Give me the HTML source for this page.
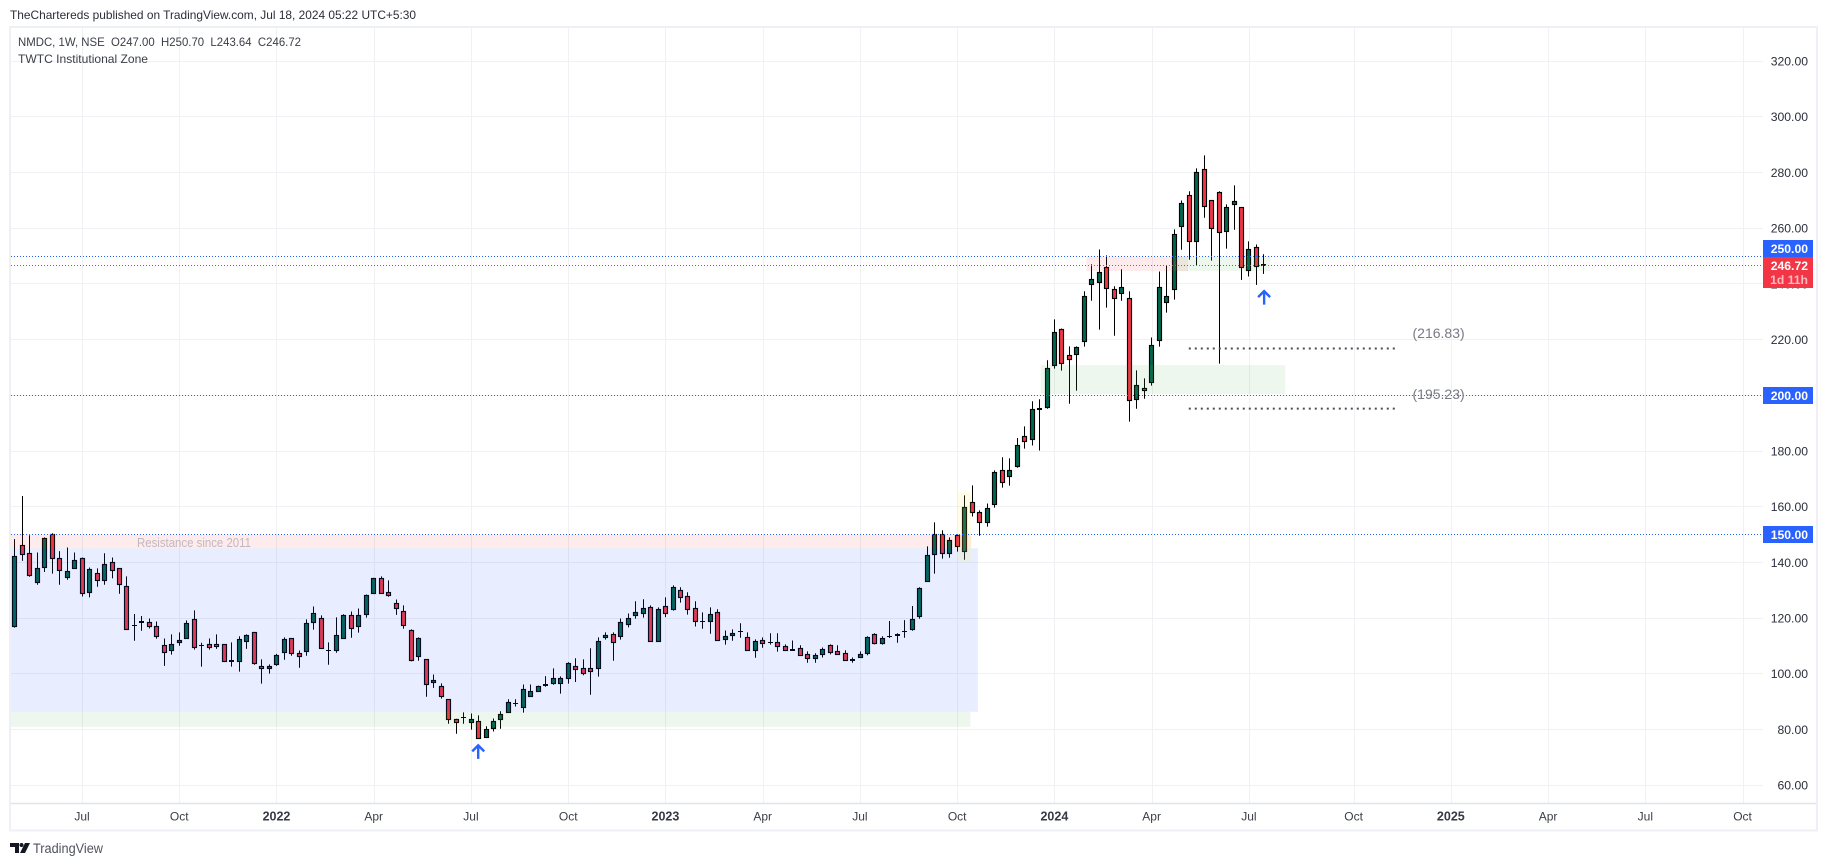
<!DOCTYPE html>
<html lang="en">
<head>
<meta charset="utf-8">
<title>NMDC 1W chart</title>
<style>
html,body{margin:0;padding:0;background:#fff;width:1827px;height:866px;overflow:hidden}
svg{display:block;font-family:"Liberation Sans",sans-serif}
</style>
</head>
<body>
<svg id="chart" xmlns="http://www.w3.org/2000/svg" width="1827" height="866" viewBox="0 0 1827 866">
  <rect x="0" y="0" width="1827" height="866" fill="#ffffff"/>
  <text x="10" y="19" font-size="12" fill="#2a2e39" textLength="406" lengthAdjust="spacingAndGlyphs">TheChartereds published on TradingView.com, Jul 18, 2024 05:22 UTC+5:30</text>
  <rect x="10" y="27" width="1807" height="803.5" fill="#ffffff" stroke="#eff0f5" stroke-width="2"/>
  <g id="grid"></g>
  <g id="candles"></g>
  <g id="zones"></g>
  <g id="hlines"></g>
  <g id="dots"></g>
  <g id="arrows"></g>
  <text x="137" y="547" font-size="12.5" fill="#787b86" fill-opacity="0.45" textLength="114" lengthAdjust="spacingAndGlyphs">Resistance since 2011</text>
  <text id="t216" x="1412.5" y="338" font-size="14" fill="#787b86">(216.83)</text>
  <text id="t195" x="1412.5" y="399" font-size="14" fill="#787b86">(195.23)</text>
  <g id="priceAxis"></g>
  <g id="timeAxis"></g>
  <text x="18" y="46" font-size="12" fill="#3b3e48" xml:space="preserve" textLength="283" lengthAdjust="spacingAndGlyphs">NMDC, 1W, NSE  O247.00  H250.70  L243.64  C246.72</text>
  <text x="18" y="63" font-size="12" fill="#3b3e48" textLength="130" lengthAdjust="spacingAndGlyphs">TWTC Institutional Zone</text>
  <g>
    <polygon points="10,843 19,843 19,853 15,853 15,847 10,847" fill="#131722"/>
    <circle cx="21.5" cy="845" r="2" fill="#131722"/>
    <polygon points="25,843 30,843 25,853 20,853" fill="#131722"/>
    <text x="33" y="853" font-size="13.5" fill="#50535e" textLength="70" lengthAdjust="spacingAndGlyphs">TradingView</text>
  </g>
</svg>
<script>
// Weekly bars: first bar sits 9 weeks before the Jul 2021 tick
const firstBarIndex = -9;
const opens = [116.9,146.1,143.3,132.7,138.2,150.2,141.5,134.5,137.9,141.5,
129.3,136.1,133.6,140.0,137.9,131.4,117.3,118.4,118.5,117.1,
110.2,108.4,111.3,112.7,119.6,110.2,110.6,110.6,110.6,104.4,
104.5,111.7,114.9,102.7,102.0,103.4,107.7,112.7,107.4,108.1,
118.5,119.9,108.3,108.3,112.7,121.0,117.1,121.4,128.9,134.3,
129.3,125.3,122.4,115.6,106.3,105.2,96.9,95.5,90.8,83.7,
84.3,82.6,83.0,77.2,80.4,83.7,86.2,89.3,88.0,91.9,
93.7,96.0,96.5,96.6,98.4,102.7,102.0,102.0,102.0,113.1,
114.2,113.5,117.8,121.0,121.7,123.9,111.7,124.3,123.2,130.0,
127.9,123.5,118.7,118.9,122.1,112.3,113.8,115.2,113.1,108.5,
112.0,111.1,111.3,109.9,108.5,109.2,107.0,105.6,107.0,110.3,
108.1,107.4,104.9,105.9,107.4,114.2,111.0,113.4,113.8,115.3,
115.9,120.5,133.2,143.0,150.1,143.3,149.8,144.0,161.6,158.0,
154.4,160.9,173.1,171.0,174.5,185.3,184.2,195.0,195.7,210.7,
223.7,214.4,214.6,219.4,239.9,240.6,246.0,238.1,236.6,234.9,
198.6,202.5,204.7,219.8,233.4,238.1,260.7,271.8,255.3,281.2,
270.0,272.9,258.9,268.6,267.5,244.9,253.2,247.0];
const highs = [148.4,163.9,149.8,143.6,149.0,150.5,144.1,145.4,143.6,141.8,
138.2,137.9,143.3,141.8,137.9,135.0,121.5,120.8,119.9,118.8,
112.7,114.2,114.9,119.2,122.8,111.2,112.7,114.2,110.6,111.3,
113.5,114.2,115.1,105.2,103.4,107.2,113.1,112.7,108.4,119.6,
124.2,121.0,111.3,120.3,121.4,122.4,123.5,128.5,134.5,135.0,
133.6,126.7,124.6,116.0,113.1,105.2,99.8,96.6,90.8,83.9,
86.2,85.8,85.1,81.2,84.0,86.6,90.9,90.9,96.2,96.2,
95.8,99.2,102.0,99.1,104.2,105.6,105.2,109.2,113.1,114.9,
114.9,119.9,121.7,126.1,126.8,124.6,123.9,127.5,131.8,131.1,
129.3,126.1,122.1,123.9,123.2,115.6,116.0,118.2,114.9,112.4,
113.1,114.6,114.6,110.6,112.0,110.3,108.1,107.4,109.5,110.6,
110.3,108.5,105.9,108.1,113.5,114.6,113.5,119.0,114.6,119.3,
124.4,131.1,145.8,154.4,151.6,149.0,150.1,164.1,167.7,158.7,
161.2,173.1,177.8,177.4,184.7,188.9,197.9,198.6,212.6,227.3,
224.0,217.6,217.6,237.4,247.1,252.4,250.3,239.2,245.3,237.4,
209.0,206.1,220.8,244.5,246.7,259.6,270.0,273.3,281.5,286.2,
270.0,273.3,268.6,275.4,267.5,255.3,254.2,250.7];
const lows = [116.6,140.6,134.9,132.0,136.6,136.0,132.0,133.8,137.8,127.8,
127.5,131.3,132.0,134.3,128.8,116.0,111.9,115.5,116.3,112.6,
102.9,106.9,110.1,112.6,108.7,102.6,108.7,109.0,104.4,102.6,
100.8,109.0,103.3,96.5,100.1,102.9,105.1,106.5,102.2,106.5,
115.9,109.2,103.3,107.6,112.7,113.0,114.8,120.2,128.8,128.8,
127.7,121.2,116.2,104.5,104.7,91.8,95.0,91.1,82.1,78.5,
82.1,80.0,76.9,77.2,79.3,80.3,86.1,88.3,86.1,91.8,
93.6,95.4,96.1,92.9,96.5,97.1,99.5,92.5,99.0,112.3,
104.7,112.3,116.7,119.8,120.2,111.6,111.6,120.4,122.7,125.6,
121.3,117.0,116.2,114.4,111.9,110.5,111.9,113.0,108.3,105.8,
109.4,110.5,108.0,108.3,108.3,106.5,104.0,104.0,105.9,107.0,
106.9,104.7,104.0,105.8,106.7,110.6,110.5,112.9,111.2,113.0,
115.5,119.8,133.1,136.0,141.4,141.7,143.9,141.0,156.5,149.6,
152.9,159.7,166.9,167.6,174.0,180.9,182.0,180.2,195.2,209.6,
208.9,197.0,201.7,217.5,234.0,223.6,231.5,221.4,234.0,190.6,
195.2,198.8,203.5,217.5,229.7,234.4,252.3,248.7,246.6,263.8,
248.4,211.4,252.7,259.5,241.5,242.7,239.7,243.64];
const closes = [142.2,142.8,135.4,137.9,148.7,141.4,137.2,136.8,140.8,128.9,
137.5,133.6,139.3,137.2,132.1,116.0,117.4,118.8,117.1,113.5,
107.7,110.6,112.0,118.1,109.5,110.3,109.5,109.9,104.5,104.8,
112.4,113.8,103.6,102.0,102.7,106.6,112.4,107.4,106.3,118.1,
121.7,109.2,108.4,113.8,121.0,116.3,121.0,128.2,134.3,128.9,
128.1,123.5,117.4,104.8,112.7,96.2,97.7,91.9,83.7,82.6,
84.4,83.7,76.9,80.1,83.0,85.5,89.8,89.4,94.4,93.7,
95.5,96.1,98.4,98.4,103.8,101.6,100.2,100.9,111.7,113.8,
111.3,118.5,119.9,122.1,123.5,111.7,123.2,121.7,131.1,127.5,
123.2,118.9,118.9,121.4,112.0,113.5,114.6,115.3,108.5,111.7,
111.0,111.2,109.9,108.5,108.8,106.7,105.6,106.7,108.8,107.7,
107.0,104.9,105.0,107.0,113.1,111.0,112.8,113.5,114.0,115.4,
119.6,130.7,142.6,150.1,143.3,148.0,145.8,159.8,158.0,154.4,
159.4,172.4,168.8,173.1,182.1,183.5,195.0,195.4,209.7,222.6,
211.5,213.0,217.3,235.6,241.7,244.2,238.4,234.9,238.8,198.2,
203.6,201.8,218.0,238.8,235.6,257.8,269.0,255.3,280.1,267.9,
260.0,258.5,267.5,269.7,246.0,252.4,246.3,246.72];
const priceTicks = [60,80,100,120,140,160,180,200,220,240,260,280,300,320];
const timeLabels = ["Jul","Oct","2022","Apr","Jul","Oct","2023","Apr","Jul","Oct","2024","Apr","Jul","Oct","2025","Apr","Jul","Oct"];
const timeBars = [0,13,26,39,52,65,78,91,104,117,130,143,156,170,183,196,209,222];
const levelPrices = [250,200,150];
const lastPrice = 246.72;
const targetPrices = [216.83,195.23];

const NS = "http://www.w3.org/2000/svg";
const plotLeft = 11, plotRight = 1763, plotTop = 28, plotBottom = 803;
function xOf(i){ return 82.5 + i * 7.48; }
function yOf(p){ return 785.3 - (p - 60) * 2.785; }
function snap(v){ return Math.floor(v) + 0.5; }
function make(tag, attrs, parent){
  const el = document.createElementNS(NS, tag);
  for (const k in attrs) el.setAttribute(k, attrs[k]);
  parent.appendChild(el);
  return el;
}
const gridG = document.getElementById("grid");
const candleG = document.getElementById("candles");
const zoneG = document.getElementById("zones");
const hlineG = document.getElementById("hlines");
const dotG = document.getElementById("dots");
const arrowG = document.getElementById("arrows");
const priceG = document.getElementById("priceAxis");
const timeG = document.getElementById("timeAxis");

priceTicks.forEach(function(p){
  const y = snap(yOf(p));
  const g = make("line", {x1:plotLeft, x2:plotRight, y1:y, y2:y, stroke:"#f0f1f4", "stroke-width":1}, gridG);
  
  
  const t = make("text", {x:1808, y:yOf(p)+4.3, "text-anchor":"end", "font-size":12.2, fill:"#2a2e39"}, priceG);
  
  
  t.textContent = p.toFixed(2);
});
timeBars.forEach(function(b, k){
  const x = snap(xOf(b));
  const g = make("line", {x1:x, x2:x, y1:plotTop, y2:plotBottom, stroke:"#f0f1f4", "stroke-width":1}, gridG);
  
  
  const isYear = /^\d/.test(timeLabels[k]);
  const t = make("text", {x:xOf(b)-0.5, y:820.5, "text-anchor":"middle", "font-size":isYear?12.5:12, "font-weight":isYear?"bold":"normal", fill:isYear?"#363a45":"#3b3e48"}, timeG);
  
  
  t.textContent = timeLabels[k];
});
const axisLine = make("line", {x1:plotLeft, x2:1816, y1:803.5, y2:803.5, stroke:"#e0e3eb", "stroke-width":1.5}, timeG);



opens.forEach(function(o, n){
  const i = firstBarIndex + n;
  const x = snap(xOf(i) - 0.4);
  const c = closes[n];
  const wick = make("line", {x1:x, x2:x, y1:yOf(highs[n]), y2:yOf(lows[n]), stroke:"#000", "stroke-width":1}, candleG);
  
  
  const top = snap(yOf(Math.max(o, c)));
  const bot = snap(yOf(Math.min(o, c)));
  const body = (bot - top) < 1.5
    ? make("rect", {x:x-2.5, y:top-0.5, width:5, height:Math.max(1, bot-top+1), fill:"#000"}, candleG)
    : make("rect", {x:x-2, y:top, width:4, height:bot-top, fill:c < o ? "#f23645" : "#00664f", stroke:"#000", "stroke-width":1.15}, candleG);
  
  
});

// zone bounds: start bar, end bar, top price, bottom price, colour
const zoneStarts = [-9.56,-9.56,-9.56,117.04,134.2,145.9,128.1];
const zoneEnds = [118.8,119.7,118.7,118.8,147.8,158.8,160.8];
const zoneTops = [150,145.1,86.4,165.3,249.8,249.8,210.9];
const zoneBottoms = [145.1,86.4,81.0,140.2,244.7,244.7,200.5];
const zoneColors = ["rgba(242,54,69,.1)","rgba(41,98,255,.11)","rgba(76,175,80,.1)","rgba(255,235,59,.12)","rgba(242,54,69,.1)","rgba(76,175,80,.1)","rgba(76,175,80,.1)"];
zoneStarts.forEach(function(s, k){
  const r = make("rect", {x:xOf(s), y:yOf(zoneTops[k]), width:xOf(zoneEnds[k])-xOf(s), height:yOf(zoneBottoms[k])-yOf(zoneTops[k]), fill:zoneColors[k]}, zoneG);
  
  
});

levelPrices.forEach(function(p){
  const y = snap(yOf(p));
  const l = make("line", {x1:plotLeft, x2:plotRight, y1:y, y2:y, stroke:"#2962ff", "stroke-width":1, "stroke-dasharray":"1 2"}, hlineG);
  
  
});
const lastLine = make("line", {x1:plotLeft, x2:plotRight, y1:snap(yOf(lastPrice)), y2:snap(yOf(lastPrice)), stroke:"#f23645", "stroke-width":1, "stroke-dasharray":"1 2"}, hlineG);



targetPrices.forEach(function(p){
  const y = yOf(p);
  const l = make("line", {x1:xOf(147.9), x2:xOf(175.5), y1:y, y2:y, stroke:"#4a4d57", "stroke-width":2, "stroke-dasharray":"2 4"}, dotG);
  
  
});

const arrowBars = [52.9,157.97];
const arrowTips = [74.7,237.8];
arrowBars.forEach(function(b, k){
  const x = xOf(b), y = yOf(arrowTips[k]);
  const a = make("path", {d:"M"+x+" "+(y+1)+"V"+(y+14.5)+"M"+(x-6)+" "+(y+7)+"L"+x+" "+(y+1)+"L"+(x+6)+" "+(y+7), fill:"none", stroke:"#2962ff", "stroke-width":2.4}, arrowG);
  
  
});

// price-axis badges
function badge(y, h, color, name){
  const r = make("rect", {x:1763, y:y, width:50, height:h, fill:color}, priceG);
  
  
}
function badgeText(str, y, op, name){
  const t = make("text", {x:1808, y:y, "text-anchor":"end", "font-size":12.2, "font-weight":"bold", fill:"#fff", "fill-opacity":op}, priceG);
  
  
  t.textContent = str;
}
badge(240, 17, "#2962ff", "badge-250");
badgeText(levelPrices[0].toFixed(2), 253, 1, "badge-250-label");
badge(257, 31, "#f23645", "badge-last-price");
badgeText(lastPrice.toFixed(2), 270, 1, "badge-last-price-label");
badgeText("1d 11h", 284, 0.65, "badge-countdown-label");
badge(387, 17, "#2962ff", "badge-200");
badgeText(levelPrices[1].toFixed(2), 400, 1, "badge-200-label");
badge(526, 17, "#2962ff", "badge-150");
badgeText(levelPrices[2].toFixed(2), 539, 1, "badge-150-label");
</script>
</body>
</html>
